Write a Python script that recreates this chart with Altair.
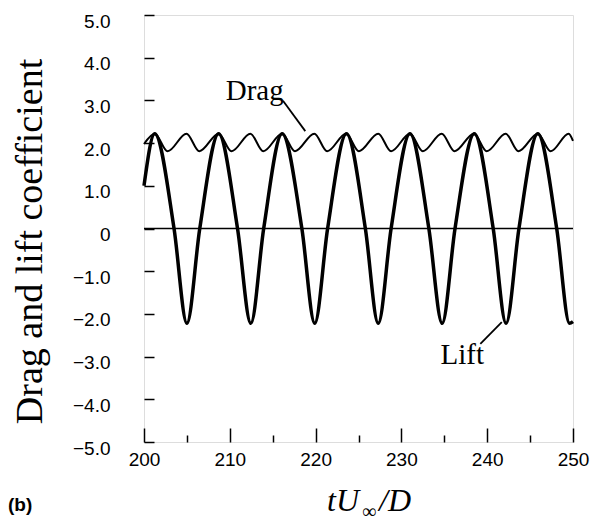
import altair as alt
import pandas as pd

# ---- data ----
lift_t = [200.0, 201.25, 203.5, 205.0, 206.5, 208.7, 210.9, 212.45, 213.95, 216.1, 218.4, 219.9, 221.4,
          223.6, 225.8, 227.3, 228.8, 231.0, 233.2, 234.75, 236.25, 238.5, 240.7, 242.2, 243.7, 245.9,
          248.1, 249.6, 250.0]
lift_v = [1.0, 2.22, 0.0, -2.22, 0.0, 2.22, 0.0, -2.22, 0.0, 2.22, 0.0, -2.22, 0.0,
          2.22, 0.0, -2.22, 0.0, 2.22, 0.0, -2.22, 0.0, 2.22, 0.0, -2.22, 0.0, 2.22,
          0.0, -2.22, -2.18]

drag_t = [200.0, 201.25, 202.75, 204.95, 206.45, 208.7, 210.2, 212.4, 213.9, 216.1, 217.6, 219.85,
          221.35, 223.55, 225.05, 227.3, 228.8, 231.0, 232.5, 234.7, 236.2, 238.45, 239.95, 242.15,
          243.65, 245.9, 247.4, 249.5, 250.0]
drag_v = [1.98, 2.22, 1.81, 2.22, 1.81, 2.22, 1.81, 2.22, 1.81, 2.22, 1.81, 2.22,
          1.81, 2.22, 1.81, 2.22, 1.81, 2.22, 1.81, 2.22, 1.81, 2.22, 1.81, 2.22,
          1.81, 2.22, 1.81, 2.22, 2.05]

x_major = [200, 210, 220, 230, 240, 250]
x_minor = [205, 215, 225, 235, 245]
y_ticks = [-5, -4, -3, -2, -1, 0, 1, 2, 3, 4, 5]

label_text = ["Drag", "Lift"]
label_t = [212.9, 237.1]
label_v = [3.0, -3.17]

leader_t = [216.2, 239.2]
leader_v = [2.99, -2.70]
leader_t2 = [218.8, 241.7]
leader_v2 = [2.28, -2.19]

W, H = 429, 427

lift_df = pd.DataFrame({"t": lift_t, "v": lift_v})
drag_df = pd.DataFrame({"t": drag_t, "v": drag_v})
lab_df = pd.DataFrame({"t": label_t, "v": label_v, "txt": label_text})
lead_df = pd.DataFrame({"t": leader_t, "v": leader_v, "t2": leader_t2, "v2": leader_v2})
one = pd.DataFrame({"a": [0]})

xs = alt.Scale(domain=[200, 250], nice=False, zero=False)
ys = alt.Scale(domain=[-5, 5], nice=False)

lab_font = "Liberation Sans"
serif = "Liberation Serif"

y_fmt = "datum.value == 0 ? '0' : format(datum.value, '.1f')"

lift = alt.Chart(lift_df).mark_line(color="black", strokeWidth=3.5, interpolate="monotone").encode(
    x=alt.X("t:Q", scale=xs, axis=alt.Axis(
        orient="bottom", values=x_major, ticks=False, tickSize=0, domain=False, grid=False,
        labelFont=lab_font, labelFontSize=19, labelColor="black", labelPadding=8,
        labelFlush=False, title=None)),
    y=alt.Y("v:Q", scale=ys, axis=alt.Axis(
        orient="left", values=y_ticks, ticks=False, tickSize=0, domain=False, grid=False,
        labelFont=lab_font, labelFontSize=19, labelColor="black", labelPadding=34,
        labelOffset=6, labelFlush=False, labelExpr=y_fmt,
        title="Drag and lift coefficient", titleFont=serif, titleFontSize=38,
        titleFontWeight="normal", titleColor="black", titleAngle=-90,
        titleX=-103, titleY=226, titleAlign="center", titleBaseline="alphabetic")),
)

drag = alt.Chart(drag_df).mark_line(color="black", strokeWidth=2, interpolate="monotone").encode(
    x=alt.X("t:Q", scale=xs, axis=alt.Axis(
        orient="top", offset=-H, values=x_minor, tickSize=7, tickWidth=1.5, tickColor="black",
        labels=False, domain=False, grid=False, title=None)),
    y=alt.Y("v:Q", scale=ys, axis=alt.Axis(
        orient="right", offset=-W, values=y_ticks, tickSize=10, tickWidth=1.5, tickColor="black",
        labels=False, domain=False, grid=False, title=None)),
)

zero = alt.Chart(one).mark_rule(color="black", strokeWidth=1.5).encode(
    y=alt.datum(0, scale=ys, axis=None)
)

labels = alt.Chart(lab_df).mark_text(font=serif, fontSize=29, color="black",
                                      align="center", baseline="alphabetic").encode(
    x=alt.X("t:Q", scale=xs, axis=alt.Axis(
        orient="top", offset=-H, values=x_major, tickSize=14, tickWidth=1.5, tickColor="black",
        labels=False, domain=False, grid=False, title=None)),
    y=alt.Y("v:Q", scale=ys, axis=None),
    text="txt:N",
)

leaders = alt.Chart(lead_df).mark_rule(color="black", strokeWidth=1.8).encode(
    x=alt.X("t:Q", scale=xs, axis=None),
    y=alt.Y("v:Q", scale=ys, axis=None),
    x2="t2:Q",
    y2="v2:Q",
)

t_part = alt.Chart(one).mark_text(font=serif, fontSize=32, fontStyle="italic", color="black",
                                  align="right", baseline="alphabetic").encode(
    x=alt.value(215), y=alt.value(496), text=alt.value("tU"))
inf_part = alt.Chart(one).mark_text(font=serif, fontSize=20, color="black",
                                    align="center", baseline="alphabetic").encode(
    x=alt.value(225), y=alt.value(503), text=alt.value("∞"))
d_part = alt.Chart(one).mark_text(font=serif, fontSize=32, fontStyle="italic", color="black",
                                  align="left", baseline="alphabetic").encode(
    x=alt.value(235), y=alt.value(496), text=alt.value("/D"))
b_part = alt.Chart(one).mark_text(font=lab_font, fontSize=19, fontWeight="bold", color="black",
                                  align="left", baseline="alphabetic").encode(
    x=alt.value(-136), y=alt.value(496), text=alt.value("(b)"))

chart = alt.layer(lift, drag, zero, labels, leaders, t_part, inf_part, d_part, b_part).resolve_axis(
    x="independent", y="independent"
).properties(
    width=W, height=H,
    padding={"left": 0, "top": 4, "right": 5, "bottom": 0},
).configure_view(
    stroke="black", strokeWidth=2.5
).configure(background="white")

chart.save("out.html", embed_options={"renderer": "svg", "actions": False})
